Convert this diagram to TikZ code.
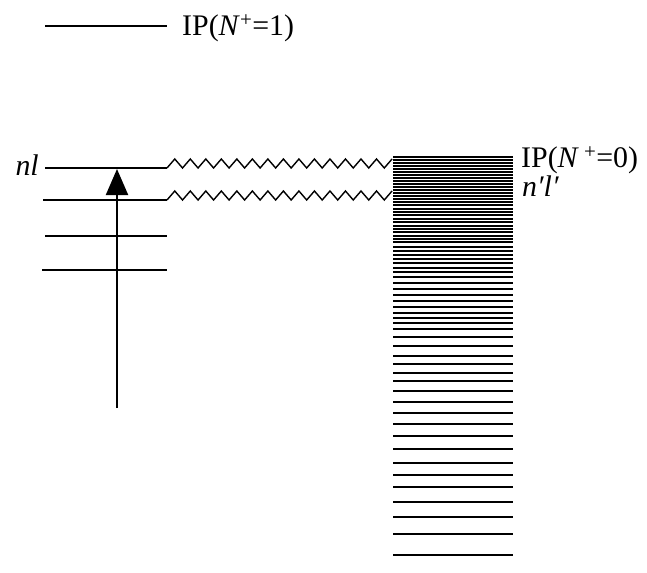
\documentclass[tikz,border=0pt]{standalone}
\usepackage{fontspec}
\setmainfont{Liberation Serif}
\usetikzlibrary{arrows.meta}
\begin{document}
\begin{tikzpicture}[x=1bp,y=-1bp,
  level/.style={line width=2bp},
  cont/.style={line width=1.5bp},
  wave/.style={line width=1.4bp, line join=miter},
  lab/.style={font=\fontsize{30}{34}\selectfont, inner sep=0pt},
  exc/.style={line width=2bp, -{Triangle[length=26bp,width=22bp]}},
]
\useasboundingbox (0,0) rectangle (647,573);
% IP(N+=1) level
\coordinate (t1) at (45,26);
\coordinate (t2) at (167,26);
\draw[level] (t1) -- (t2);
\node[lab, anchor=west] (ip1) at (182,28) {IP(\textit{N}\textsuperscript{+}=1)};
% bound levels
\coordinate (a1) at (45,168);  \coordinate (a2) at (167,168);
\coordinate (b1) at (43,200);  \coordinate (b2) at (167,200);
\coordinate (c1) at (45,236);  \coordinate (c2) at (167,236);
\coordinate (d1) at (42,270);  \coordinate (d2) at (167,270);
\draw[level] (a1) -- (a2);
\draw[level] (b1) -- (b2);
\draw[level] (c1) -- (c2);
\draw[level] (d1) -- (d2);
\node[lab, anchor=east] (nl) at (39,165) {\textit{nl}};
% excitation arrow
\coordinate (ab) at (117,408);
\coordinate (at) at (117,169);
\draw[exc] (ab) -- (at);
% autoionisation zigzags
\draw[wave] (a2) \foreach \i in {0,...,13} { -- ++(7.76,-9) -- ++(7.76,9) } -- ++(7.76,-9) coordinate (za);
\draw[wave] (b2) \foreach \i in {0,...,13} { -- ++(7.76,-9) -- ++(7.76,9) } -- ++(7.76,-9) coordinate (zb);
% continuum / Rydberg levels
\foreach \y in {157,160,163,166,169,172,175,178,181,184,187,190,193,196,199,202,205,
  209,212,215,219,222,226,229,232,236,239,242,247,251,255,259,263,268,272,277,283,289,
  295,301,307,313,318,323,329,337,346,356,364,373,381,391,402,413,424,436,449,463,475,
  487,502,517,534,555}
  \draw[cont] (393,\y) -- (513,\y);
\node[lab, anchor=west] (ip0) at (521,160) {IP(\textit{N}\,\textsuperscript{+}=0)};
\node[lab, anchor=west] (npl) at (522,186) {\textit{n′l′}};
\end{tikzpicture}
\end{document}
